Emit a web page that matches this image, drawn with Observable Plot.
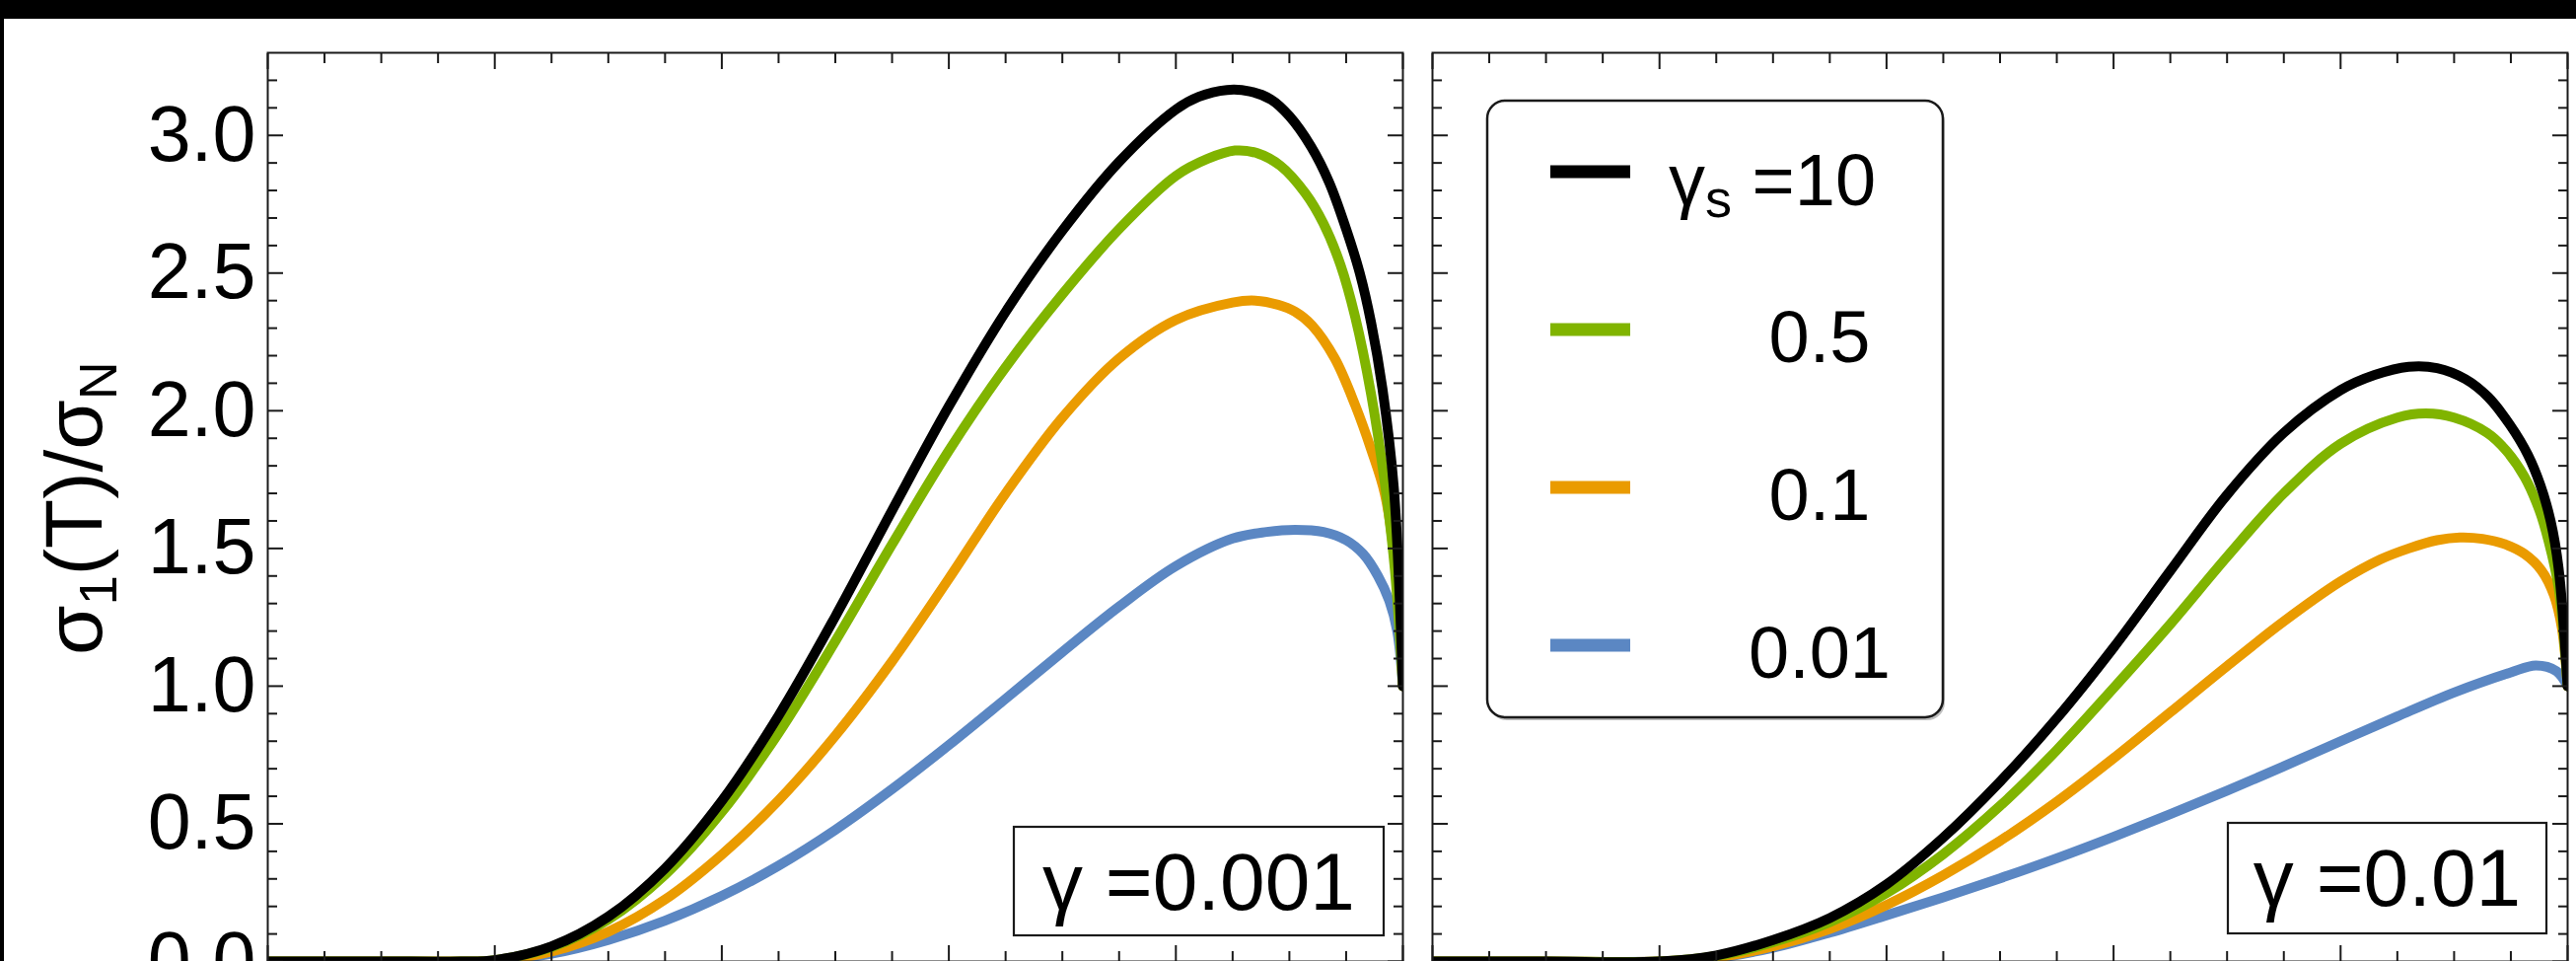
<!DOCTYPE html>
<html><head><meta charset="utf-8">
<script src="https://cdn.jsdelivr.net/npm/d3@7"></script>
<script src="https://cdn.jsdelivr.net/npm/@observablehq/plot@0.6"></script>
<style>
html,body{margin:0;padding:0;background:#000;width:2612px;height:974px;overflow:hidden;}
#chart{position:absolute;left:4px;top:19px;width:2608px;height:955px;background:#fff;overflow:hidden;}
</style></head><body><div id="chart"></div>
<script>
// ---- categories / labels ----
const gammas = ["0.001", "0.01"];
const gammaLabels = ["γ =0.001", "γ =0.01"];
const seriesKeys = ["10", "0.5", "0.1", "0.01"];
const seriesColors = ["#000000", "#80B400", "#EA9B00", "#5B87C3"];

// ---- ticks ----
const xMajor = [0, 0.2, 0.4, 0.6, 0.8, 1];
const xMinor = [0.05, 0.1, 0.15, 0.25, 0.3, 0.35, 0.45, 0.5, 0.55, 0.65, 0.7, 0.75, 0.85, 0.9, 0.95];
const yMajor = [0, 0.5, 1, 1.5, 2, 2.5, 3];
const yMinor = [0.1, 0.2, 0.3, 0.4, 0.6, 0.7, 0.8, 0.9, 1.1, 1.2, 1.3, 1.4, 1.6, 1.7, 1.8, 1.9,
                2.1, 2.2, 2.3, 2.4, 2.6, 2.7, 2.8, 2.9, 3.1, 3.2];

// ---- series: [T/Tc, sigma1/sigmaN] ----  (gamma = 0.001)
const left10 = [[0,0],[0.1,0],[0.17,0],[0.2,0.005],[0.25,0.055],[0.3,0.163],[0.35,0.338],[0.4,0.583],
  [0.45,0.893],[0.5,1.253],[0.55,1.638],[0.6,2.016],[0.65,2.359],[0.7,2.654],[0.75,2.904],[0.8,3.094],
  [0.82,3.14],[0.845,3.165],[0.865,3.16],[0.884,3.13],[0.9,3.07],[0.919,2.96],[0.935,2.83],[0.95,2.66],
  [0.962,2.50],[0.972,2.32],[0.982,2.08],[0.992,1.72],[1,1.0]];
const left05 = [[0,0],[0.1,0],[0.17,0],[0.2,0.005],[0.25,0.052],[0.3,0.152],[0.35,0.315],[0.4,0.543],
  [0.45,0.83],[0.5,1.163],[0.55,1.515],[0.6,1.855],[0.65,2.158],[0.7,2.423],[0.75,2.66],[0.8,2.853],
  [0.828,2.915],[0.852,2.945],[0.872,2.935],[0.892,2.89],[0.914,2.79],[0.93,2.68],[0.945,2.53],
  [0.958,2.34],[0.972,2.06],[0.984,1.74],[0.993,1.42],[1,1.0]];
const left01 = [[0,0],[0.1,0],[0.17,0],[0.2,0.003],[0.25,0.036],[0.3,0.108],[0.35,0.225],[0.4,0.388],
  [0.45,0.585],[0.5,0.82],[0.55,1.09],[0.6,1.39],[0.65,1.70],[0.7,1.975],[0.75,2.19],[0.8,2.33],
  [0.85,2.393],[0.87,2.40],[0.89,2.385],[0.905,2.36],[0.92,2.31],[0.94,2.19],[0.958,2.02],[0.972,1.86],
  [0.984,1.70],[0.993,1.45],[1,1.0]];
const left001 = [[0,0],[0.1,0],[0.17,0],[0.2,0.003],[0.25,0.028],[0.3,0.078],[0.35,0.148],[0.4,0.238],
  [0.45,0.348],[0.5,0.478],[0.55,0.626],[0.6,0.786],[0.65,0.954],[0.7,1.124],[0.75,1.289],[0.8,1.436],
  [0.85,1.536],[0.88,1.560],[0.905,1.568],[0.93,1.56],[0.95,1.53],[0.965,1.48],[0.978,1.40],[0.988,1.31],
  [0.995,1.20],[1,1.0]];
// (gamma = 0.01)
const right10 = [[0,0],[0.1,0],[0.2,0],[0.25,0.022],[0.3,0.078],[0.35,0.158],[0.4,0.28],[0.45,0.45],
  [0.5,0.653],[0.55,0.883],[0.6,1.14],[0.65,1.419],[0.7,1.695],[0.75,1.92],[0.8,2.075],[0.83,2.13],
  [0.86,2.16],[0.885,2.155],[0.91,2.115],[0.93,2.05],[0.949,1.95],[0.965,1.84],[0.976,1.73],[0.985,1.60],
  [0.992,1.43],[1,1.0]];
const right05 = [[0,0],[0.1,0],[0.2,0],[0.25,0.02],[0.3,0.07],[0.35,0.143],[0.4,0.248],[0.45,0.39],
  [0.5,0.565],[0.55,0.768],[0.6,0.993],[0.65,1.225],[0.7,1.47],[0.75,1.70],[0.8,1.88],[0.85,1.975],
  [0.875,1.99],[0.9,1.975],[0.929,1.92],[0.946,1.855],[0.962,1.76],[0.975,1.64],[0.983,1.53],
  [0.992,1.36],[1,1.0]];
const right01 = [[0,0],[0.1,0],[0.2,0],[0.25,0.015],[0.3,0.055],[0.35,0.118],[0.4,0.205],[0.45,0.313],
  [0.5,0.438],[0.55,0.58],[0.6,0.738],[0.65,0.905],[0.7,1.073],[0.75,1.235],[0.8,1.38],[0.835,1.46],
  [0.86,1.50],[0.885,1.53],[0.905,1.54],[0.925,1.535],[0.945,1.515],[0.962,1.48],[0.977,1.42],
  [0.988,1.33],[0.995,1.21],[1,1.0]];
const right001 = [[0,0],[0.1,0],[0.2,0],[0.25,0.0125],[0.3,0.05],[0.35,0.105],[0.4,0.168],[0.45,0.233],
  [0.5,0.302],[0.55,0.375],[0.6,0.453],[0.65,0.535],[0.7,0.62],[0.75,0.709],[0.8,0.80],[0.85,0.89],
  [0.9,0.977],[0.95,1.05],[0.972,1.075],[0.99,1.055],[1,1.0]];

// table for Plot (drawing order: 0.01 first, 10 on top)
const curves = [
  ["0.001", "0.01", left001], ["0.001", "0.1", left01], ["0.001", "0.5", left05], ["0.001", "10", left10],
  ["0.01", "0.01", right001], ["0.01", "0.1", right01], ["0.01", "0.5", right05], ["0.01", "10", right10]
];
const rows = curves.flatMap(([g, s, pts]) => pts.map(([t, v]) => ({g, s, t, v})));

const FONT = "'Liberation Sans', Arial, Helvetica, sans-serif";
const INK = "#1a1a1a";
const tk = {stroke: INK, strokeWidth: 2, fill: "none", label: null, facetAnchor: null};

const chart = Plot.plot({
  width: 2608, height: 955,
  marginLeft: 267, marginRight: 9, marginTop: 34, marginBottom: 0,
  style: {fontFamily: FONT, background: "white", color: "#000"},
  fx: {domain: gammas, paddingInner: 0.0254, paddingOuter: 0, round: false, axis: null, label: null},
  x: {domain: [0, 1]},
  y: {domain: [0, 3.3]},
  color: {domain: seriesKeys, range: seriesColors},
  marks: [
    Plot.line(rows, {fx: "g", x: "t", y: "v", z: "s", stroke: "s", strokeWidth: 10,
      curve: "catmull-rom", clip: true, strokeLinejoin: "round"}),
    Plot.frame({stroke: INK, strokeWidth: 2}),
    Plot.axisX(xMajor, {anchor: "top", tickSize: -16, ...tk}),
    Plot.axisX(xMinor, {anchor: "top", tickSize: -10, ...tk}),
    Plot.axisX(xMajor, {anchor: "bottom", tickSize: -16, ...tk}),
    Plot.axisX(xMinor, {anchor: "bottom", tickSize: -10, ...tk}),
    Plot.axisY(yMajor, {anchor: "left", tickSize: -16, ...tk}),
    Plot.axisY(yMinor, {anchor: "left", tickSize: -10, ...tk}),
    Plot.axisY(yMajor, {anchor: "right", tickSize: -16, ...tk}),
    Plot.axisY(yMinor, {anchor: "right", tickSize: -10, ...tk}),
    Plot.axisY(yMajor, {anchor: "left", tickSize: 0, tickPadding: 12, label: null,
      tickFormat: d => d.toFixed(1), fontSize: 79, fill: "#000"})
  ]
});
document.getElementById("chart").appendChild(chart);

// ---- annotations ----
const color = chart.scale("color");
const svg = d3.select(chart);
const ann = svg.append("g").attr("font-family", FONT).attr("fill", "#000").attr("text-anchor", "start");

// y-axis label  σ1(T)/σN
const yl = ann.append("text").attr("transform", "translate(99,496) rotate(-90)")
  .attr("text-anchor", "middle").attr("font-size", 82);
yl.append("tspan").text("σ");
yl.append("tspan").attr("font-size", 54).attr("dy", 15).text("1");
yl.append("tspan").attr("dy", -15).text("(T)/σ");
yl.append("tspan").attr("font-size", 54).attr("dy", 15).text("N");

// legend (right panel)
const lg = ann.append("g");
lg.append("rect").attr("x", 1506).attr("y", 86).attr("width", 462).attr("height", 625).attr("rx", 18)
  .attr("fill", "#444").attr("opacity", 0.35);
lg.append("rect").attr("x", 1504).attr("y", 83).attr("width", 462).attr("height", 625).attr("rx", 18)
  .attr("fill", "white").attr("stroke", INK).attr("stroke-width", 2.5);
seriesKeys.forEach((k, i) => {
  const cy = 155 + i * 160;
  lg.append("rect").attr("x", 1568).attr("y", cy - 6.5).attr("width", 81).attr("height", 13)
    .attr("fill", color.apply(k));
  if (i === 0) {
    const t = lg.append("text").attr("x", 1688).attr("y", cy + 34).attr("font-size", 74)
      .attr("text-anchor", "start");
    t.append("tspan").text("γ");
    t.append("tspan").attr("font-size", 54).attr("dy", 12).text("s");
    t.append("tspan").attr("dy", -12).text(" =" + k);
  } else {
    lg.append("text").attr("x", 1841).attr("y", cy + 33).attr("text-anchor", "middle")
      .attr("font-size", 74).text(k);
  }
});

// gamma boxes
const boxes = [
  {x: 1024, y: 819, w: 375, h: 110},
  {x: 2255, y: 815, w: 323, h: 112}
];
gammaLabels.forEach((lab, i) => {
  const b = boxes[i];
  ann.append("rect").attr("x", b.x).attr("y", b.y).attr("width", b.w).attr("height", b.h)
    .attr("fill", "white").attr("stroke", INK).attr("stroke-width", 2.2);
  ann.append("text").attr("x", b.x + b.w / 2).attr("y", b.y + 84).attr("text-anchor", "middle")
    .attr("font-size", 82).text(lab);
});
</script></body></html>
